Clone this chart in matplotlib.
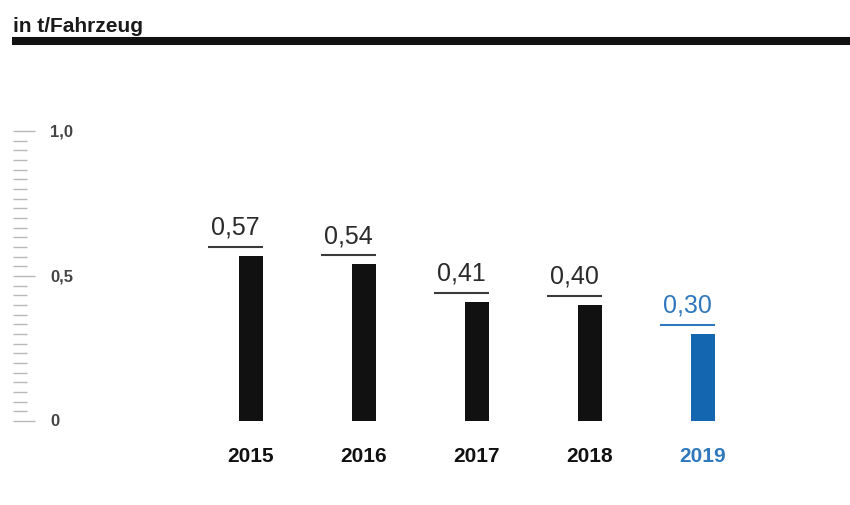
import matplotlib
matplotlib.use("Agg")
import matplotlib.pyplot as plt
from matplotlib import transforms
from matplotlib.lines import Line2D
import numpy as np

years = ["2015", "2016", "2017", "2018", "2019"]
values = [0.57, 0.54, 0.41, 0.40, 0.30]
value_labels = ["0,57", "0,54", "0,41", "0,40", "0,30"]
major_ticks = [0.0, 0.5, 1.0]
major_labels = ["0", "0,5", "1,0"]
title = "in t/Fahrzeug"

BLACK = "#111111"
BLUE = "#1566b0"
BLUE_TEXT = "#2f78bd"
TEXT = "#2b2b2b"
GRID = "#b8b8b8"

plt.rcParams["font.family"] = ["Liberation Sans", "DejaVu Sans"]

W, H, DPI = 850, 506, 100
fig = plt.figure(figsize=(W / DPI, H / DPI), dpi=DPI)
fig.patch.set_facecolor("white")

# plot area: zero line at 422 px from top, 1.0 at 132 px
left_px, right_px = 13, 850
ax = fig.add_axes([left_px / W, (H - 422) / H, (right_px - left_px) / W, 290 / H])
ax.set_facecolor("none")

step_px = 113.0
first_px = 251.0
ax.set_xlim((left_px - first_px) / step_px, (right_px - first_px) / step_px)
ax.set_ylim(0, 1)

x = np.arange(len(years))
colors = [BLACK] * (len(years) - 1) + [BLUE]
bar_w = 24 / step_px
ax.bar(x, values, width=bar_w, color=colors, zorder=3)

# value labels with a rule underneath
line_off = transforms.offset_copy(ax.transData, fig=fig, y=0.09, units="inches")
rule_len = 55 / step_px
for xi, v, lab, c in zip(x, values, value_labels, colors):
    right = xi + bar_w / 2
    left = right - rule_len
    tc = BLUE_TEXT if c == BLUE else TEXT
    lc = BLUE_TEXT if c == BLUE else "#3a3a3a"
    ax.plot([left, right], [v, v], color=lc, lw=1.5, transform=line_off,
            solid_capstyle="butt", clip_on=False)
    ax.annotate(lab, xy=((left + right) / 2, v), xytext=(0, 16),
                textcoords="offset points", ha="center", va="baseline",
                fontsize=18, color=tc, annotation_clip=False)

# year labels
ax.set_xticks(x)
ax.set_xticklabels(years, fontsize=15, fontweight="bold")
shift = transforms.ScaledTranslation(-0.03, 0, fig.dpi_scale_trans)
for tl, c in zip(ax.get_xticklabels(), colors):
    tl.set_color(BLUE_TEXT if c == BLUE else BLACK)
    tl.set_transform(tl.get_transform() + shift)
ax.tick_params(axis="x", length=0, pad=18)

# y scale: ruler ticks pointing inwards
ax.set_yticks(major_ticks)
ax.set_yticks(np.arange(0, 31) / 30, minor=True)
ax.tick_params(axis="y", which="major", direction="in", length=16, width=1,
               color=GRID, labelleft=False)
ax.tick_params(axis="y", which="minor", direction="in", length=10, width=1,
               color=GRID)
ytrans = transforms.blended_transform_factory(ax.transAxes, ax.transData)
for t, lab in zip(major_ticks, major_labels):
    ax.text((50 - left_px) / (right_px - left_px), t, lab, transform=ytrans,
            ha="left", va="center", fontsize=12, fontweight="bold",
            color="#444444")

for s in ax.spines.values():
    s.set_visible(False)

# header
fig.text(13 / W, 1 - 32 / H, title, ha="left", va="baseline",
         fontsize=15, fontweight="bold", color="#1a1a1a")
fig.add_artist(Line2D([12 / W, 1.0], [1 - 42 / H, 1 - 42 / H],
                      transform=fig.transFigure, color=BLACK, lw=5.8,
                      solid_capstyle="butt"))

fig.savefig("out.png", dpi=DPI, facecolor="white")
